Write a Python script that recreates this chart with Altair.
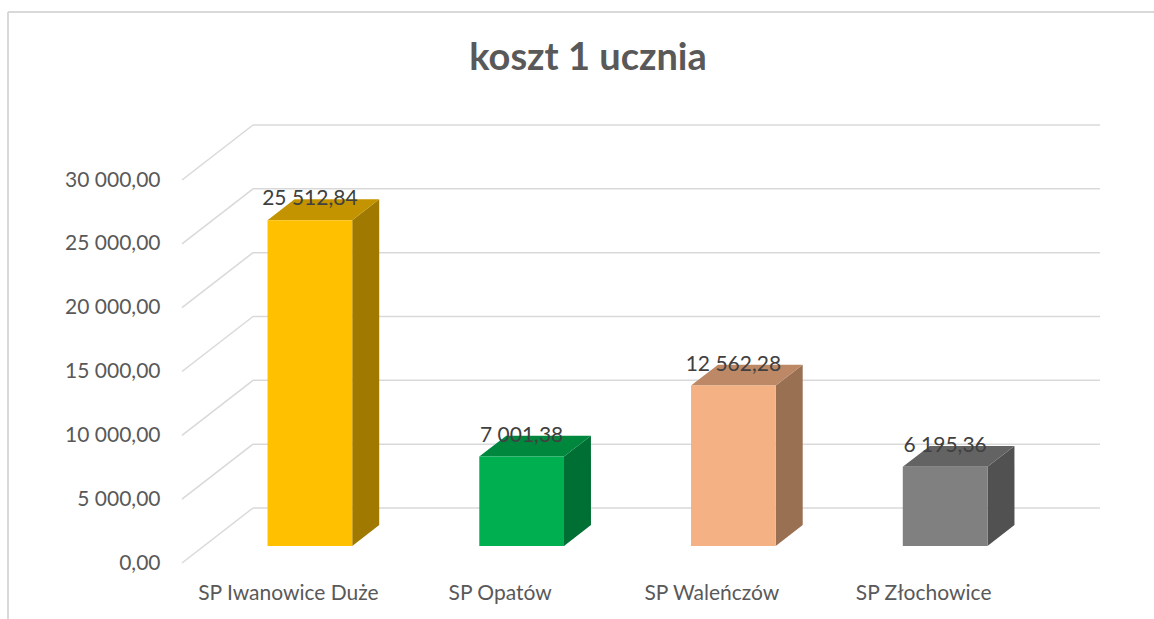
import json
import altair as alt
import pandas as pd

# ---------------- data ----------------
categories = ["SP Iwanowice Duże", "SP Opatów", "SP Waleńczów", "SP Złochowice"]
values = [25512.84, 7001.38, 12562.28, 6195.36]
front_colors = ["#FFC000", "#00B050", "#F4B183", "#808080"]
top_colors = ["#C49400", "#00873E", "#BC8865", "#636363"]
side_colors = ["#A07900", "#006F33", "#9A7053", "#515151"]
y_ticks = [0, 5000, 10000, 15000, 20000, 25000, 30000]
chart_title = "koszt 1 ucznia"

# ---------------- geometry / style ----------------
Y_MAX = 30000
FRONT_W = 847          # px, width of the front plane
FRONT_H = 383          # px, height of the front plane
DEPTH_DX = 71          # px, horizontal shift of the back wall
DEPTH_DY = 55          # px, vertical shift of the back wall
n = len(categories)
DXU = DEPTH_DX * n / FRONT_W          # depth shift in x data units
DYU = DEPTH_DY * Y_MAX / FRONT_H      # depth shift in y data units
BAR_HALF = 0.2                        # half bar width (band units)
D1, D2 = 0.31, 0.69                   # bar front / back depth (0..1)
FONT = "Lato"
FS = 21
GRID = "#D9D9D9"
TXT = "#595959"

xscale = alt.Scale(domain=[0, n + DXU], nice=False, zero=False)
yscale = alt.Scale(domain=[0, Y_MAX + DYU], nice=False, zero=False)

x_expr = json.dumps(categories, ensure_ascii=False) + "[floor(datum.value)]"
X_AX = alt.Axis(values=[i + 0.5 for i in range(n)], labelExpr=x_expr, title=None,
                domain=False, ticks=False, grid=False, labelPadding=19,
                labelLimit=400, labelOverlap=False, labelFlush=False,
                labelFont=FONT, labelFontSize=FS, labelColor=TXT, labelAngle=0)
Y_AX = alt.Axis(values=y_ticks, title=None, domain=False, ticks=False, grid=False,
                labelExpr="replace(replace(format(datum.value, ',.2f'), ',', ' '), '.', ',')",
                labelPadding=22, labelFont=FONT, labelFontSize=FS, labelColor=TXT)

# ---------------- tables ----------------
grid_df = pd.DataFrame({
    "v": y_ticks,
    "vb": [t + DYU for t in y_ticks],
    "xf": [0.0] * len(y_ticks),
    "xb": [DXU] * len(y_ticks),
    "xe": [n + DXU] * len(y_ticks),
})

front_rows, face_rows, label_rows = [], [], []
dd = (D2 - D1) * DXU
for i, (c, v) in enumerate(zip(categories, values)):
    x0 = i + 0.5 - BAR_HALF + D1 * DXU
    x1 = i + 0.5 + BAR_HALF + D1 * DXU
    b1, b2 = D1 * DYU, D2 * DYU
    t1, t2 = v + D1 * DYU, v + D2 * DYU
    front_rows.append({"cat": c, "x0": x0, "x1": x1, "y0": b1, "y1": t1, "color": front_colors[i]})
    # side face (parallelogram)
    for xx, lo, hi in [(x1, b1, t1), (x1 + dd, b2, t2)]:
        face_rows.append({"face": f"side{i}", "x": xx, "lo": lo, "hi": hi, "color": side_colors[i]})
    # top face (parallelogram)
    for xx, lo, hi in [(x0, t1, t1), (x0 + dd, t1, t2), (x1, t1, t2), (x1 + dd, t2, t2)]:
        face_rows.append({"face": f"top{i}", "x": xx, "lo": lo, "hi": hi, "color": top_colors[i]})
    lab = f"{v:,.2f}".replace(",", " ").replace(".", ",")
    label_rows.append({"x": i + 0.5 + D1 * DXU, "y": t2, "label": lab})

front_df = pd.DataFrame(front_rows)
face_df = pd.DataFrame(face_rows)
label_df = pd.DataFrame(label_rows)

# ---------------- layers ----------------
back_grid = alt.Chart(grid_df).mark_rule(color=GRID, strokeWidth=1.5).encode(
    x=alt.X("xb:Q", scale=xscale, axis=X_AX),
    x2="xe:Q",
    y=alt.Y("vb:Q", scale=yscale, axis=Y_AX),
)
side_wall = alt.Chart(grid_df).mark_rule(color=GRID, strokeWidth=1.5).encode(
    x=alt.X("xf:Q", scale=xscale, axis=X_AX),
    x2="xb:Q",
    y=alt.Y("v:Q", scale=yscale, axis=Y_AX),
    y2="vb:Q",
)
faces = alt.Chart(face_df).mark_area(orient="vertical", interpolate="linear").encode(
    x=alt.X("x:Q", scale=xscale, axis=X_AX),
    y=alt.Y("lo:Q", scale=yscale, axis=Y_AX),
    y2="hi:Q",
    detail="face:N",
    color=alt.Color("color:N", scale=None),
)
fronts = alt.Chart(front_df).mark_rect().encode(
    x=alt.X("x0:Q", scale=xscale, axis=X_AX),
    x2="x1:Q",
    y=alt.Y("y0:Q", scale=yscale, axis=Y_AX),
    y2="y1:Q",
    color=alt.Color("color:N", scale=None),
)
labels = alt.Chart(label_df).mark_text(font=FONT, fontSize=FS, color="#404040",
                                       baseline="alphabetic", align="center", dy=6).encode(
    x=alt.X("x:Q", scale=xscale, axis=X_AX),
    y=alt.Y("y:Q", scale=yscale, axis=Y_AX),
    text="label:N",
)
frame_top = alt.Chart(pd.DataFrame({"k": [0]})).mark_rule(color=GRID, strokeWidth=2).encode(
    x=alt.value(-174), x2=alt.value(990), y=alt.value(-113))
frame_left = alt.Chart(pd.DataFrame({"k": [0]})).mark_rule(color=GRID, strokeWidth=2).encode(
    x=alt.value(-174), y=alt.value(-113), y2=alt.value(520))

chart = alt.layer(back_grid, side_wall, faces, fronts, labels, frame_top, frame_left).properties(
    width=FRONT_W + DEPTH_DX,
    height=FRONT_H + DEPTH_DY,
    autosize=alt.AutoSizeParams(type="none"),
    padding={"left": 182, "top": 125, "right": 54, "bottom": 56},
    background="white",
    title=alt.TitleParams(chart_title, font=FONT, fontSize=38, fontWeight="bold", color=TXT,
                          anchor="middle", frame="bounds", baseline="alphabetic",
                          dx=-2, offset=-97),
).configure_view(strokeWidth=0, stroke="transparent")

chart.save("out.html", embed_options={"renderer": "svg", "actions": False})
